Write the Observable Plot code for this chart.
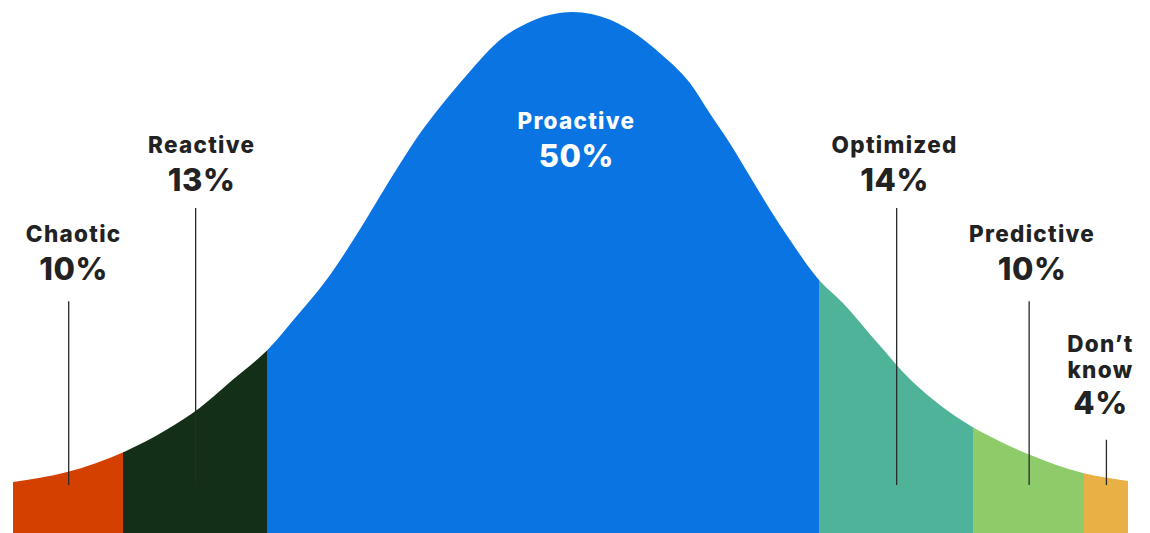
<!DOCTYPE html>
<html>
<head>
<meta charset="utf-8">
<script src="https://cdn.jsdelivr.net/npm/d3@7"></script>
<script src="https://cdn.jsdelivr.net/npm/@observablehq/plot@0.6"></script>
<style>
  html, body { margin: 0; padding: 0; background: #ffffff; }
  #chart svg { display: block; }
</style>
</head>
<body>
<div id="chart"></div>
<script>
// ---- Data ----
const categories = ["Chaotic", "Reactive", "Proactive", "Optimized", "Predictive", "Don’t know"];
const shares = [10, 13, 50, 14, 10, 4];
const colors = ["#D44000", "#132F17", "#0A74E3", "#4FB39A", "#8ECB69", "#E8B045"];

// Bell-curve outline (x in cumulative %, height in % of peak)
const curveX = [0, 4.9, 10.2, 13.9, 16.9, 19.9, 23.3, 25.4, 28.4, 31.4, 33.2, 35.1, 36.9, 38.7, 40.5, 42.3, 44.1, 46.6, 49.5, 50.7,
                54.1, 56.8, 58.6, 61.3, 63.1, 64.9, 66.8, 68.6, 70.4, 72.8, 75.2, 78.3, 81.3, 84.2, 86.8, 89.1, 92.1, 96.9, 101];
const curveH = [9.8, 11.7, 15.7, 19.8, 24.0, 29.4, 35.7, 40.9, 48.6, 58.2, 64.5, 71.0, 76.8, 81.8, 86.4, 90.8, 94.6, 97.9, 99.8, 100,
                98.5, 95.2, 92.1, 86.4, 80.6, 74.9, 68.3, 62.0, 56.2, 49.1, 44.1, 36.5, 29.4, 24.2, 20.5, 17.9, 15.0, 11.5, 10.0];

// ---- Layout (annotation placement) ----
const labelY = [57.6, 74.7, 79.3, 74.7, 57.6, 34.0];   // label centre height
const labelDx = [5, 6, 33, -2, 3, -6];                  // px nudges
const leaderTop = [44.5, 62.4, null, 62.4, 44.5, 17.9];
const leaderBottom = 9.2;
const yTop = 102.3;

// ---- Build tables ----
let acc = 0;
const segments = categories.map((c, i) => {
  const s = { cat: c, share: shares[i], x1: acc, x2: acc + shares[i], color: colors[i],
              ly: labelY[i], dx: labelDx[i], lt: leaderTop[i],
              lines: c.startsWith("Don") ? 2 : 1 };
  acc += shares[i];
  s.mid = (s.x1 + s.x2) / 2;
  return s;
});
const curve = curveX.map((x, i) => ({ u: x, h: curveH[i] }));
const total = acc;

const nameText = s => s.lines === 2 ? s.cat.replace(" ", "\n") : s.cat;
const textColor = s => s.cat === "Proactive" ? "#ffffff" : "#222222";

const labelMarks = segments.flatMap(s => [
  Plot.text([s], { x: "mid", y: "ly", dx: s.dx, text: nameText, fill: textColor(s),
    fontSize: 22.5, fontWeight: 800, lineHeight: 1.16, lineAnchor: "middle" }),
  Plot.text([s], { x: "mid", y: "ly", dx: s.dx, dy: s.lines === 2 ? 48 : 37,
    text: d => d.share + "%", fill: textColor(s), fontSize: 31, fontWeight: 800, lineAnchor: "middle" })
]);

const chart = Plot.plot({
  width: 1150,
  height: 533,
  marginLeft: 13,
  marginRight: 22,
  marginTop: 0,
  marginBottom: 0,
  x: { domain: [0, total], axis: null },
  y: { domain: [0, yTop], axis: null },
  style: { fontFamily: "Inter, 'Noto Sans', sans-serif", background: "#ffffff" },
  marks: [
    Plot.rect(segments, { x1: "x1", x2: "x2", y1: 0, y2: yTop, fill: "color", shapeRendering: "crispEdges" }),
    Plot.areaY(curve, { x: "u", y1: "h", y2: yTop, fill: "#ffffff", curve: "monotone-x" }),
    Plot.ruleX(segments.filter(s => s.lt != null), { x: "mid", y1: leaderBottom, y2: "lt", stroke: "#2a2a2a", strokeWidth: 1.3 }),
    ...labelMarks
  ]
});
// widen the label lettering to match the reference typeface
d3.select(chart).selectAll("g[font-size='22.5'] text").style("letter-spacing", "1.3px");
d3.select(chart).selectAll("g[font-size='31'] text").style("letter-spacing", "0.6px");
document.getElementById("chart").appendChild(chart);
</script>
</body>
</html>
